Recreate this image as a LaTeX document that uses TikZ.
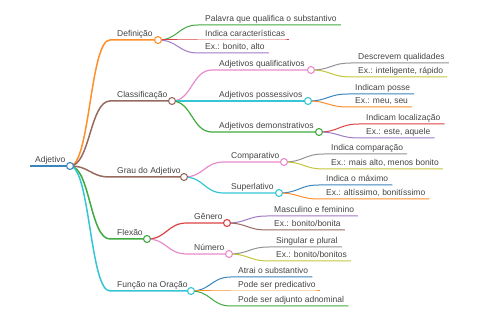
\documentclass[tikz,border=0pt]{standalone}
\usepackage{fontspec}
\setmainfont{Liberation Sans}
\definecolor{cblue}{HTML}{3A85BD}
\definecolor{corange}{HTML}{FF8F2A}
\definecolor{cgreen}{HTML}{3FAA3F}
\definecolor{cred}{HTML}{DA4243}
\definecolor{cpurple}{HTML}{9F7AC4}
\definecolor{cbrown}{HTML}{976A60}
\definecolor{cpink}{HTML}{E88BCB}
\definecolor{cgray}{HTML}{929292}
\definecolor{colive}{HTML}{C4C53C}
\definecolor{ccyan}{HTML}{34C6D5}
\definecolor{textgray}{HTML}{444444}
\newcommand\mminner[8]{% name, parent, y, xs, xc, colour, width, text
  \coordinate (#1-s) at (#4,#3);
  \coordinate (#1-c) at (#5,#3);
  \node[txt] (#1) at ([shift={(7,-3)}]#1-s) {#8};
  \draw[#6, line width=#7] (#2-c) .. controls +(20,0) and +(-20,0) .. (#1-s) -- (#1-c);
}
\newcommand\mmleaf[6]{% name, parent, y, xs, colour, text
  \coordinate (#1-s) at (#4,#3);
  \node[txt] (#1) at ([shift={(7,-3)}]#1-s) {#6};
  \draw[#5, line width=1pt] (#2-c) .. controls +(20,0) and +(-20,0) .. (#1-s) -- (#1-s -| #1.east) -- ++(4,0);
}
\newcommand\mmdot[2]{\node[dot, draw=#2] at (#1-c) {};}
\begin{document}
\begin{tikzpicture}[x=1pt,y=-1pt,
  txt/.style={inner sep=0pt, anchor=base west, font=\fontsize{8.5}{10}\selectfont, text=textgray},
  dot/.style={circle, fill=white, minimum size=7pt, inner sep=0pt, line width=1.1pt}]
\path[use as bounding box] (0,0) rectangle (480,320);
% root
\coordinate (r-s) at (30,166);
\coordinate (r-c) at (70,166);
\node[txt] (r) at (35,163) {Adjetivo};
\draw[cblue, line width=2pt] (r-s) -- (r-c);
% level 1
\mminner{def}{r}{40}{110}{158}{corange}{1.5pt}{Definição}
\mminner{cla}{r}{101}{110}{172}{cbrown}{1.5pt}{Classificação}
\mminner{gra}{r}{177}{110}{184}{cbrown}{1.5pt}{Grau do Adjetivo}
\mminner{fle}{r}{239}{110}{147}{cgreen}{1.5pt}{Flexão}
\mminner{fun}{r}{291}{110}{191}{ccyan}{1.5pt}{Função na Oração}
% Definição
\mmleaf{d1}{def}{25}{198}{cgreen}{Palavra que qualifica o substantivo}
\mmleaf{d2}{def}{40}{198}{cred}{Indica características}
\mmleaf{d3}{def}{53}{198}{cpurple}{Ex.: bonito, alto}
% Classificação
\mminner{c1}{cla}{70}{212}{311}{cpink}{1.2pt}{Adjetivos qualificativos}
\mminner{c2}{cla}{101}{212}{308}{ccyan}{1.2pt}{Adjetivos possessivos}
\mminner{c3}{cla}{132}{212}{319}{cgreen}{1.2pt}{Adjetivos demonstrativos}
\mmleaf{c1a}{c1}{63}{351}{cgray}{Descrevem qualidades}
\mmleaf{c1b}{c1}{77}{351}{colive}{Ex.: inteligente, rápido}
\mmleaf{c2a}{c2}{94}{348}{cblue}{Indicam posse}
\mmleaf{c2b}{c2}{107}{348}{corange}{Ex.: meu, seu}
\mmleaf{c3a}{c3}{124}{359}{cred}{Indicam localização}
\mmleaf{c3b}{c3}{138}{359}{cpurple}{Ex.: este, aquele}
% Grau
\mminner{g1}{gra}{162}{224}{284}{cpink}{1.2pt}{Comparativo}
\mminner{g2}{gra}{193}{224}{279}{ccyan}{1.2pt}{Superlativo}
\mmleaf{g1a}{g1}{154}{324}{cgray}{Indica comparação}
\mmleaf{g1b}{g1}{169}{324}{colive}{Ex.: mais alto, menos bonito}
\mmleaf{g2a}{g2}{185}{319}{cblue}{Indica o máximo}
\mmleaf{g2b}{g2}{199}{319}{corange}{Ex.: altíssimo, bonitíssimo}
% Flexão
\mminner{f1}{fle}{223}{187}{227}{cred}{1.2pt}{Gênero}
\mminner{f2}{fle}{254}{187}{229}{cpink}{1.2pt}{Número}
\mmleaf{f1a}{f1}{216}{267}{cpurple}{Masculino e feminino}
\mmleaf{f1b}{f1}{230}{267}{cbrown}{Ex.: bonito/bonita}
\mmleaf{f2a}{f2}{247}{269}{cgray}{Singular e plural}
\mmleaf{f2b}{f2}{261}{269}{colive}{Ex.: bonito/bonitos}
% Função
\mmleaf{u1}{fun}{277}{231}{cblue}{Atrai o substantivo}
\mmleaf{u2}{fun}{291}{231}{corange}{Pode ser predicativo}
\mmleaf{u3}{fun}{306}{231}{cgreen}{Pode ser adjunto adnominal}
% circles
\mmdot{r}{cblue}
\mmdot{def}{corange}
\mmdot{cla}{cbrown}
\mmdot{gra}{cbrown}
\mmdot{fle}{cgreen}
\mmdot{fun}{ccyan}
\mmdot{c1}{cpink}
\mmdot{c2}{ccyan}
\mmdot{c3}{cgreen}
\mmdot{g1}{cpink}
\mmdot{g2}{ccyan}
\mmdot{f1}{cred}
\mmdot{f2}{cpink}
\end{tikzpicture}
\end{document}
